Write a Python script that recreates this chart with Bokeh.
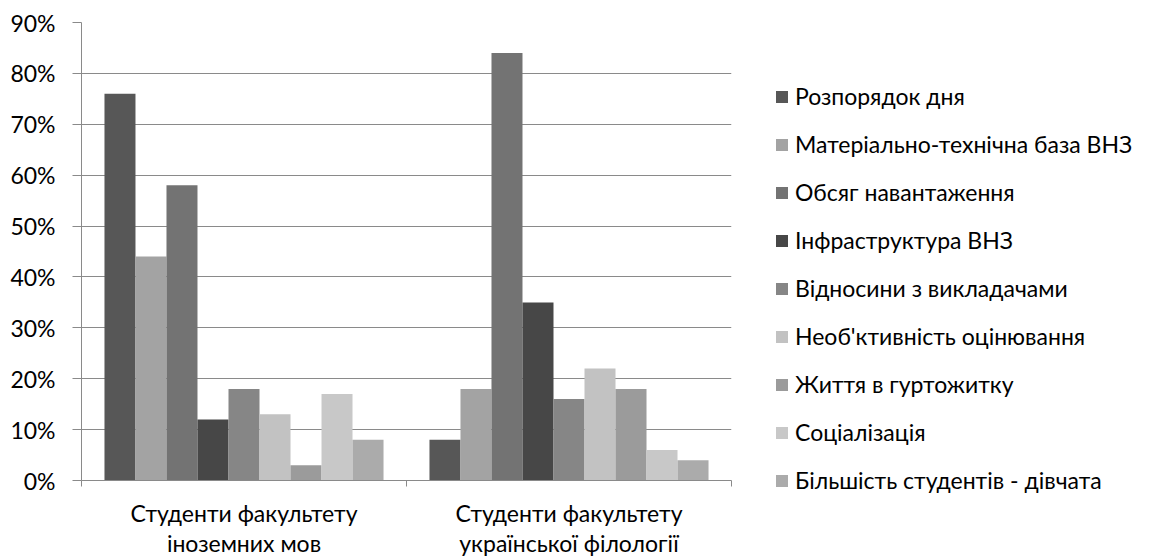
from bokeh.plotting import figure
from bokeh.models import (Range1d, FixedTicker, LinearAxis, Legend, LegendItem,
                          ColumnDataSource, PrintfTickFormatter, Grid)
from bokeh.transform import dodge
from bokeh.embed import file_html
from bokeh.resources import INLINE

categories = ["Студенти факультету\nіноземних мов",
              "Студенти факультету\nукраїнської філології"]
series = ["Розпорядок дня", "Матеріально-технічна база ВНЗ", "Обсяг навантаження",
          "Інфраструктура ВНЗ", "Відносини з викладачами", "Необ'ктивність оцінювання",
          "Життя в гуртожитку", "Соціалізація", "Більшість студентів - дівчата"]
values_foreign = [76, 44, 58, 12, 18, 13, 3, 17, 8]
values_ukrainian = [8, 18, 84, 35, 16, 22, 18, 6, 4]
colors = ["#575757", "#a3a3a3", "#737373", "#474747", "#868686",
          "#c2c2c2", "#9b9b9b", "#c8c8c8", "#ababab"]
y_ticks = [0, 10, 20, 30, 40, 50, 60, 70, 80, 90]

FONT = "Lato"
GRAY = "#8a8a8a"
FS = "23px"

p = figure(frame_width=650, frame_height=458, x_range=Range1d(0, len(categories)),
           y_range=Range1d(0, 90), output_backend="svg", toolbar_location=None,
           x_axis_type=None, y_axis_type=None,
           min_border_left=81, min_border_right=0, min_border_top=22,
           min_border_bottom=0)
p.outline_line_color = None
p.background_fill_color = "white"

centers = [i + 0.5 for i in range(len(categories))]
bounds = [i for i in range(len(categories) + 1)]

yticker = FixedTicker(ticks=y_ticks)
yaxis = LinearAxis(ticker=yticker, formatter=PrintfTickFormatter(format="%d%%"))
yaxis.axis_line_color = GRAY
yaxis.major_tick_line_color = GRAY
yaxis.major_tick_out = 9
yaxis.major_tick_in = 0
yaxis.minor_tick_line_color = None
yaxis.major_label_text_font = FONT
yaxis.major_label_text_font_size = FS
yaxis.major_label_text_color = "black"
yaxis.major_label_standoff = 17
p.add_layout(yaxis, "left")

xticker = FixedTicker(ticks=centers, minor_ticks=bounds)
xaxis = LinearAxis(ticker=xticker)
xaxis.major_label_overrides = {c: lab for c, lab in zip(centers, categories)}
xaxis.axis_line_color = GRAY
xaxis.major_tick_line_color = None
xaxis.minor_tick_line_color = GRAY
xaxis.minor_tick_out = 6
xaxis.minor_tick_in = 0
xaxis.major_label_text_font = FONT
xaxis.major_label_text_font_size = FS
xaxis.major_label_text_color = "black"
xaxis.major_label_text_line_height = 1.1
xaxis.major_label_standoff = 12
p.add_layout(xaxis, "below")

p.add_layout(Grid(dimension=1, ticker=yticker, grid_line_color=GRAY, grid_line_width=1))

bar_w = 0.0954
n = len(series)
items = []
for s in range(n):
    src = ColumnDataSource(dict(x=centers, top=[values_foreign[s], values_ukrainian[s]]))
    r = p.vbar(x=dodge("x", (s - (n - 1) / 2) * bar_w, range=p.x_range), top="top",
               width=bar_w, source=src, fill_color=colors[s], line_color=None)
    items.append(LegendItem(label=series[s], renderers=[r]))

legend = Legend(items=items, location=(43, -14), orientation="vertical",
                glyph_width=15, glyph_height=15, label_height=28, spacing=20,
                padding=0, margin=0, border_line_color=None, background_fill_alpha=0,
                label_text_font=FONT, label_text_font_size=FS,
                label_text_color="black", label_standoff=6)
p.add_layout(legend, "right")

open("out.html", "w").write(file_html(p, INLINE))
